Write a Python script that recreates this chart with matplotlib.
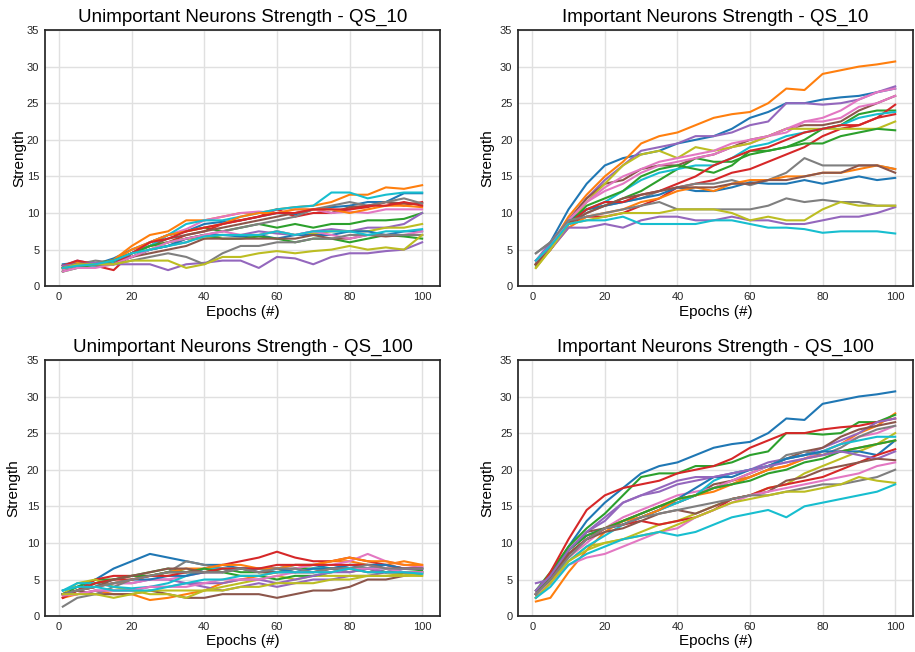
import matplotlib
matplotlib.use("Agg")
import matplotlib.pyplot as plt

plt.rcParams['font.family'] = ['Liberation Sans', 'DejaVu Sans']

epochs = [1, 5, 10, 15, 20, 25, 30, 35, 40, 45, 50, 55, 60, 65, 70, 75, 80, 85, 90, 95, 100]

# Unimportant neurons, QS_10 (20 neurons, tab10 order repeated)
unimp_qs10 = [
    [3.0, 3.2, 3.0, 3.8, 5.0, 6.0, 7.0, 7.5, 8.5, 8.8, 9.0, 9.5, 10.0, 9.8, 10.5, 10.8, 11.0, 11.5, 11.5, 12.7, 12.7],
    [2.8, 3.3, 3.0, 3.6, 5.5, 7.0, 7.5, 9.0, 9.0, 9.5, 10.0, 10.0, 10.5, 10.8, 11.0, 11.5, 12.5, 12.5, 13.5, 13.3, 13.8],
    [2.0, 3.0, 3.2, 3.5, 4.5, 6.0, 7.0, 7.5, 8.0, 7.5, 8.0, 8.5, 8.0, 8.5, 8.0, 8.5, 8.5, 9.0, 9.0, 9.2, 10.0],
    [2.5, 3.0, 2.8, 2.2, 4.5, 5.5, 6.0, 7.0, 7.5, 8.5, 9.0, 9.5, 10.5, 9.5, 10.0, 10.0, 10.5, 10.8, 11.5, 11.0, 11.5],
    [2.8, 3.5, 3.0, 3.2, 4.0, 5.0, 5.5, 6.5, 7.0, 7.0, 7.0, 7.5, 7.2, 7.0, 7.5, 7.8, 7.5, 8.0, 8.0, 8.5, 10.0],
    [2.5, 3.0, 3.0, 3.5, 4.5, 5.5, 6.5, 7.0, 7.5, 8.0, 8.5, 9.0, 9.5, 10.0, 10.5, 10.0, 10.8, 11.0, 11.5, 11.3, 11.3],
    [2.2, 2.5, 3.0, 3.5, 4.5, 6.0, 7.0, 7.8, 9.0, 9.5, 10.0, 10.2, 10.0, 10.5, 10.5, 10.0, 10.2, 10.0, 10.5, 10.5, 10.5],
    [2.5, 3.0, 3.5, 3.2, 4.0, 5.0, 5.5, 6.0, 7.0, 7.5, 8.0, 8.5, 9.0, 9.5, 10.5, 11.0, 11.5, 11.0, 11.5, 12.0, 11.3],
    [2.5, 3.0, 3.0, 3.5, 4.5, 5.0, 6.0, 6.5, 6.5, 7.0, 7.0, 7.0, 7.5, 7.0, 7.2, 7.5, 7.5, 7.5, 8.0, 8.0, 8.5],
    [2.5, 2.8, 2.8, 3.2, 4.5, 5.5, 7.0, 8.5, 9.0, 9.0, 9.5, 10.0, 10.5, 10.8, 11.0, 12.8, 12.8, 12.0, 12.5, 12.8, 12.8],
    [2.8, 3.0, 3.0, 3.5, 4.0, 5.0, 5.5, 6.5, 7.0, 7.0, 6.8, 7.0, 6.5, 7.0, 7.0, 7.0, 7.5, 7.5, 7.0, 7.5, 7.5],
    [2.5, 3.0, 3.0, 3.5, 5.0, 6.0, 7.0, 7.5, 8.0, 8.5, 9.5, 10.0, 10.0, 10.5, 10.5, 10.5, 10.0, 10.5, 11.0, 11.0, 10.8],
    [2.0, 2.5, 3.0, 3.5, 4.5, 5.5, 6.0, 6.5, 7.0, 6.5, 6.5, 6.8, 6.5, 6.0, 6.5, 6.5, 6.0, 6.5, 7.0, 6.8, 6.5],
    [2.8, 3.5, 3.0, 3.0, 4.5, 6.0, 6.5, 7.5, 8.0, 8.5, 9.0, 9.5, 10.0, 10.0, 10.5, 10.5, 10.5, 11.0, 11.0, 11.5, 11.0],
    [2.8, 3.0, 3.2, 3.0, 3.0, 3.0, 2.2, 3.0, 3.2, 3.5, 3.5, 2.5, 4.0, 3.8, 3.0, 4.0, 4.5, 4.5, 4.8, 5.0, 6.0],
    [2.5, 3.0, 3.0, 3.0, 4.0, 4.5, 5.0, 5.5, 6.5, 6.5, 6.5, 6.5, 6.5, 6.5, 7.0, 6.5, 6.5, 7.0, 6.8, 7.0, 7.0],
    [2.0, 2.5, 2.5, 3.0, 4.0, 5.0, 6.0, 6.5, 7.0, 7.5, 7.0, 7.0, 7.5, 7.0, 7.5, 7.0, 6.5, 7.0, 7.0, 7.0, 7.5],
    [2.5, 2.8, 3.0, 3.0, 3.5, 4.0, 4.5, 4.0, 3.0, 4.5, 5.5, 5.5, 6.0, 6.0, 6.5, 6.5, 7.0, 7.0, 7.0, 7.0, 7.0],
    [2.5, 3.0, 3.0, 3.0, 3.5, 3.5, 3.5, 2.5, 3.0, 4.0, 4.0, 4.5, 4.8, 4.5, 4.8, 5.0, 5.5, 5.0, 5.3, 5.0, 7.0],
    [2.5, 2.8, 3.0, 3.5, 4.5, 5.0, 5.5, 6.0, 6.8, 7.0, 7.0, 7.0, 7.5, 7.0, 7.5, 7.5, 7.5, 7.0, 7.5, 7.5, 7.8],
]

# Important neurons, QS_10
imp_qs10 = [
    [3.0, 6.0, 10.5, 14.0, 16.5, 17.5, 18.0, 18.5, 19.5, 20.0, 20.5, 21.5, 23.0, 23.8, 25.0, 25.0, 25.5, 25.8, 26.0, 26.5, 27.0],
    [3.0, 5.5, 9.5, 12.5, 15.0, 17.0, 19.5, 20.5, 21.0, 22.0, 23.0, 23.5, 23.8, 25.0, 27.0, 26.8, 29.0, 29.5, 30.0, 30.3, 30.7],
    [2.8, 5.0, 8.5, 10.5, 11.0, 12.0, 13.0, 14.5, 16.0, 17.5, 17.0, 17.0, 18.0, 18.5, 19.0, 20.0, 21.5, 22.0, 23.5, 24.0, 24.0],
    [3.0, 5.0, 8.5, 9.5, 9.5, 10.0, 11.0, 12.0, 13.5, 14.0, 14.5, 15.5, 16.0, 17.0, 18.0, 19.0, 20.5, 21.5, 22.0, 23.0, 24.8],
    [3.5, 6.0, 9.0, 12.0, 14.5, 16.5, 18.5, 19.0, 19.5, 20.5, 20.5, 21.0, 22.0, 22.5, 25.0, 25.0, 24.8, 25.0, 25.5, 26.5, 27.3],
    [3.0, 5.5, 9.0, 12.0, 14.0, 14.5, 16.0, 16.5, 16.5, 17.5, 18.0, 19.0, 20.0, 20.5, 21.5, 22.0, 22.0, 22.5, 24.0, 25.0, 26.0],
    [3.0, 5.5, 9.0, 11.5, 13.0, 14.0, 15.5, 16.5, 17.0, 17.5, 18.0, 19.0, 19.5, 20.5, 21.0, 22.5, 23.0, 24.0, 25.5, 26.5, 27.0],
    [4.5, 6.0, 8.5, 10.0, 11.0, 11.5, 12.0, 13.0, 13.5, 14.0, 14.0, 14.5, 13.8, 14.5, 15.5, 17.5, 16.5, 16.5, 16.5, 16.5, 16.0],
    [2.5, 5.0, 8.5, 11.5, 14.0, 16.5, 18.0, 18.5, 17.5, 19.0, 18.5, 19.0, 19.5, 20.5, 21.5, 21.5, 21.5, 21.5, 21.5, 21.5, 22.5],
    [3.5, 5.5, 8.5, 10.5, 11.5, 13.0, 14.5, 15.5, 16.0, 16.5, 16.5, 17.5, 19.0, 19.5, 20.5, 21.0, 21.5, 22.0, 23.0, 23.5, 23.8],
    [3.0, 5.5, 9.0, 10.5, 11.0, 11.5, 12.0, 12.5, 13.5, 13.0, 13.0, 13.5, 14.2, 14.0, 14.0, 14.5, 14.0, 14.5, 15.0, 14.5, 14.8],
    [3.0, 5.0, 8.0, 9.5, 10.0, 10.5, 11.5, 12.0, 13.0, 13.5, 13.0, 14.0, 14.5, 14.5, 15.0, 15.0, 15.5, 15.5, 16.0, 16.5, 16.0],
    [3.0, 5.5, 8.5, 11.0, 12.0, 13.0, 15.0, 16.0, 16.5, 16.0, 15.5, 16.5, 18.5, 18.5, 19.0, 19.5, 19.5, 20.5, 21.0, 21.5, 21.3],
    [3.0, 5.0, 8.5, 10.5, 11.5, 11.5, 12.5, 13.0, 14.0, 15.0, 16.5, 17.5, 18.5, 19.0, 20.0, 21.0, 21.5, 22.0, 22.0, 23.0, 23.5],
    [3.5, 5.0, 8.0, 8.0, 8.5, 8.0, 9.0, 9.5, 9.5, 9.0, 9.0, 9.5, 9.0, 9.0, 8.5, 8.5, 9.0, 9.5, 9.5, 10.0, 10.8],
    [3.0, 5.5, 8.5, 10.0, 11.0, 12.0, 12.5, 13.0, 13.5, 13.5, 13.5, 14.0, 14.0, 14.5, 14.5, 15.0, 15.5, 15.5, 16.5, 16.5, 15.5],
    [3.5, 5.5, 9.0, 11.5, 13.5, 15.0, 16.0, 17.0, 17.5, 18.0, 18.5, 19.5, 20.0, 20.5, 21.5, 22.5, 22.5, 23.0, 24.5, 25.0, 26.0],
    [4.5, 6.0, 9.0, 9.5, 10.0, 10.5, 11.0, 11.5, 10.5, 10.5, 10.5, 10.5, 10.5, 11.0, 12.0, 11.5, 11.8, 11.5, 11.5, 11.0, 11.0],
    [2.5, 5.0, 8.5, 9.0, 9.5, 10.0, 10.0, 10.0, 10.5, 10.5, 10.5, 10.0, 9.0, 9.5, 9.0, 9.0, 10.5, 11.5, 11.0, 11.0, 11.0],
    [3.5, 5.5, 8.5, 9.0, 9.0, 9.5, 8.5, 8.5, 8.5, 8.5, 9.0, 9.0, 8.5, 8.0, 8.0, 7.8, 7.3, 7.5, 7.5, 7.5, 7.2],
]

# Unimportant neurons, QS_100
unimp_qs100 = [
    [3.5, 4.0, 5.0, 6.5, 7.5, 8.5, 8.0, 7.5, 7.0, 7.0, 6.5, 6.0, 6.5, 7.0, 7.0, 6.5, 7.0, 6.5, 7.0, 6.5, 6.5],
    [2.5, 3.0, 3.5, 3.0, 3.0, 2.2, 2.5, 3.0, 3.5, 4.5, 5.0, 5.5, 6.0, 6.5, 7.0, 7.5, 7.5, 7.0, 7.0, 7.5, 7.0],
    [3.0, 4.0, 5.0, 5.0, 5.5, 6.0, 6.5, 6.0, 6.0, 6.5, 6.0, 6.0, 6.0, 6.5, 6.5, 6.5, 6.5, 6.5, 6.0, 6.5, 6.5],
    [2.5, 3.5, 5.0, 5.5, 5.5, 5.5, 6.0, 6.0, 6.5, 7.0, 7.5, 8.0, 8.8, 8.0, 7.5, 7.5, 8.0, 7.5, 7.0, 6.5, 6.8],
    [3.0, 3.5, 4.0, 4.5, 4.5, 5.0, 5.0, 4.5, 4.0, 3.5, 4.0, 4.5, 4.0, 4.5, 5.0, 5.0, 5.5, 5.5, 6.0, 6.0, 6.0],
    [3.0, 3.5, 3.0, 3.0, 3.0, 3.5, 3.0, 2.5, 2.5, 3.0, 3.0, 3.0, 2.5, 3.0, 3.5, 3.5, 4.0, 5.0, 5.0, 5.5, 5.8],
    [3.0, 3.5, 4.0, 4.5, 4.5, 5.0, 5.0, 5.5, 6.0, 6.0, 6.5, 6.5, 6.5, 6.5, 7.0, 7.0, 7.5, 8.5, 7.5, 7.0, 6.8],
    [1.3, 2.5, 3.0, 4.0, 5.0, 5.5, 6.0, 7.5, 7.0, 6.5, 6.5, 6.5, 6.5, 6.0, 6.0, 6.5, 6.0, 6.5, 6.0, 6.0, 6.0],
    [3.0, 4.5, 5.0, 4.0, 3.5, 3.0, 3.0, 2.5, 3.5, 4.0, 4.5, 5.0, 5.5, 5.0, 5.5, 5.5, 5.5, 5.5, 5.5, 5.8, 5.5],
    [3.5, 4.5, 4.5, 4.0, 3.8, 4.0, 4.5, 5.5, 6.5, 6.5, 6.5, 6.5, 6.0, 6.0, 6.5, 6.5, 6.5, 6.5, 6.5, 6.0, 5.8],
    [3.0, 3.5, 4.0, 4.5, 5.0, 5.0, 5.5, 5.5, 6.0, 6.0, 6.5, 6.5, 6.5, 6.0, 6.5, 6.5, 7.0, 7.0, 7.0, 6.5, 6.5],
    [2.8, 3.5, 4.0, 4.5, 5.0, 5.5, 6.0, 6.5, 6.5, 7.0, 7.0, 6.5, 6.5, 7.0, 7.0, 7.5, 8.0, 7.5, 7.5, 7.0, 7.0],
    [3.0, 3.5, 4.5, 5.0, 5.5, 5.5, 6.0, 6.0, 6.5, 6.0, 5.5, 5.5, 5.0, 5.5, 5.5, 6.0, 6.5, 6.5, 6.0, 6.0, 6.2],
    [2.5, 3.5, 4.5, 5.0, 5.0, 5.5, 5.5, 6.0, 6.0, 6.5, 6.5, 6.5, 7.0, 7.0, 7.0, 7.0, 7.0, 7.0, 6.5, 6.5, 6.5],
    [3.0, 3.0, 3.5, 3.5, 3.5, 4.0, 4.0, 4.5, 4.5, 4.5, 5.0, 5.0, 4.5, 5.0, 5.5, 6.0, 6.0, 6.5, 6.0, 6.5, 6.5],
    [3.0, 3.5, 4.0, 5.0, 5.5, 6.0, 6.5, 6.5, 6.0, 6.0, 6.5, 6.0, 6.0, 6.0, 6.0, 6.5, 6.5, 6.0, 6.0, 6.0, 6.0],
    [2.8, 3.0, 3.5, 3.5, 3.5, 4.0, 4.0, 4.0, 4.5, 5.0, 5.0, 5.0, 5.5, 6.0, 6.0, 6.0, 6.5, 6.5, 6.5, 6.0, 6.0],
    [3.0, 3.5, 4.0, 4.5, 5.0, 5.5, 6.0, 6.0, 6.0, 6.0, 6.5, 6.0, 6.5, 6.5, 6.0, 6.5, 6.5, 7.0, 6.5, 6.5, 6.5],
    [3.0, 3.0, 3.0, 2.5, 3.0, 3.5, 3.5, 3.5, 3.5, 3.5, 4.0, 4.0, 4.5, 4.5, 4.5, 5.0, 5.0, 5.5, 5.5, 5.5, 5.5],
    [3.5, 4.0, 4.0, 3.5, 3.5, 3.5, 4.0, 4.5, 5.0, 5.0, 5.5, 5.5, 6.0, 6.0, 6.0, 6.0, 6.5, 6.0, 6.0, 6.0, 5.8],
]

# Important neurons, QS_100
imp_qs100 = [
    [3.0, 5.5, 9.5, 13.0, 15.5, 17.5, 19.5, 20.5, 21.0, 22.0, 23.0, 23.5, 23.8, 25.0, 27.0, 26.8, 29.0, 29.5, 30.0, 30.3, 30.7],
    [2.0, 2.5, 6.0, 9.0, 11.5, 13.0, 14.0, 15.0, 16.0, 16.5, 17.5, 18.5, 19.0, 20.0, 20.5, 21.5, 22.5, 23.5, 25.0, 26.0, 27.7],
    [3.5, 6.0, 9.5, 12.0, 14.0, 16.5, 19.0, 19.5, 19.5, 20.5, 20.5, 21.0, 22.0, 22.5, 25.0, 25.0, 24.8, 25.0, 26.5, 26.5, 27.5],
    [3.0, 6.0, 10.5, 14.5, 16.5, 17.5, 18.0, 18.5, 19.5, 20.0, 20.5, 21.5, 23.0, 24.0, 25.0, 25.0, 25.5, 25.8, 26.0, 26.5, 27.0],
    [4.5, 5.0, 9.0, 11.5, 13.0, 15.5, 16.5, 17.0, 18.0, 18.5, 19.0, 19.5, 20.0, 21.0, 21.5, 22.0, 23.0, 24.0, 25.0, 26.5, 27.0],
    [3.0, 5.0, 9.0, 11.5, 12.0, 13.0, 14.0, 15.0, 15.5, 16.5, 18.0, 18.5, 19.5, 20.5, 21.5, 22.5, 23.0, 24.5, 25.5, 26.0, 26.5],
    [3.0, 5.0, 8.0, 10.0, 12.0, 13.5, 14.5, 15.5, 16.5, 17.0, 17.5, 18.5, 19.5, 20.5, 21.0, 21.5, 22.5, 23.5, 24.5, 25.0, 26.0],
    [3.5, 5.5, 8.5, 10.5, 12.0, 12.5, 13.5, 14.5, 15.5, 16.5, 17.5, 18.0, 19.0, 20.0, 22.0, 22.5, 22.0, 23.0, 24.5, 25.5, 26.0],
    [3.0, 4.5, 7.5, 9.5, 10.0, 10.5, 11.5, 12.5, 13.0, 14.0, 15.0, 16.0, 16.5, 17.5, 18.0, 19.5, 20.5, 21.5, 22.5, 23.5, 25.0],
    [3.0, 5.0, 7.5, 9.5, 11.0, 12.5, 13.5, 14.5, 15.5, 16.5, 18.5, 19.5, 20.0, 20.5, 21.5, 22.0, 22.5, 23.5, 24.0, 24.5, 24.5],
    [2.5, 5.0, 9.0, 11.0, 12.0, 12.5, 13.5, 14.5, 16.0, 17.5, 19.0, 19.0, 20.0, 20.5, 21.5, 22.0, 22.5, 22.5, 22.5, 22.0, 24.0],
    [2.5, 4.5, 8.5, 10.5, 12.0, 13.0, 13.5, 14.5, 16.0, 16.5, 17.0, 18.0, 19.0, 20.0, 20.5, 21.5, 22.0, 22.5, 23.0, 23.5, 24.0],
    [3.0, 5.5, 9.0, 11.0, 12.0, 13.0, 14.0, 15.0, 16.0, 16.5, 17.5, 18.0, 18.5, 19.5, 20.0, 21.0, 21.5, 22.5, 23.0, 23.5, 24.0],
    [3.0, 5.0, 8.5, 10.5, 12.0, 12.5, 13.0, 12.5, 13.0, 13.5, 14.5, 16.0, 16.5, 17.5, 18.0, 18.5, 19.0, 20.0, 21.0, 22.0, 22.8],
    [3.5, 5.5, 9.0, 11.5, 13.5, 15.5, 16.5, 17.5, 18.5, 19.0, 19.0, 19.5, 20.0, 20.5, 21.0, 21.5, 22.0, 22.5, 22.0, 21.5, 22.5],
    [3.0, 5.0, 8.5, 10.5, 11.5, 12.0, 13.0, 14.0, 14.5, 14.0, 15.0, 16.0, 16.5, 17.0, 18.5, 19.0, 20.0, 20.5, 21.0, 21.5, 21.3],
    [3.0, 4.5, 7.0, 8.0, 8.5, 9.5, 10.5, 11.5, 12.0, 13.5, 14.5, 15.5, 16.5, 17.0, 17.5, 18.0, 18.5, 19.0, 19.5, 20.5, 21.0],
    [3.0, 5.0, 8.0, 10.5, 12.0, 12.5, 13.5, 14.0, 14.5, 15.0, 15.5, 16.0, 16.5, 16.5, 17.0, 17.5, 18.0, 18.0, 18.5, 19.0, 20.0],
    [2.5, 4.5, 7.5, 9.0, 10.0, 10.5, 11.0, 11.5, 12.5, 13.5, 14.5, 15.5, 16.0, 16.5, 17.0, 17.0, 17.5, 18.0, 19.0, 18.5, 18.2],
    [2.5, 4.0, 7.0, 8.5, 9.5, 10.5, 11.0, 11.5, 11.0, 11.5, 12.5, 13.5, 14.0, 14.5, 13.5, 15.0, 15.5, 16.0, 16.5, 17.0, 18.0],
]

titles = [
    "Unimportant Neurons Strength - QS_10",
    "Important Neurons Strength - QS_10",
    "Unimportant Neurons Strength - QS_100",
    "Important Neurons Strength - QS_100",
]
panels = [unimp_qs10, imp_qs10, unimp_qs100, imp_qs100]

# axes rectangles in figure fractions (left, bottom, width, height)
rects = [
    [0.049, 0.561, 0.432, 0.393],
    [0.566, 0.561, 0.432, 0.393],
    [0.049, 0.055, 0.432, 0.393],
    [0.566, 0.055, 0.432, 0.393],
]
ylabel_pads = [0.5, 4, 5, 4]

fig = plt.figure(figsize=(9.15, 6.52), dpi=100)
colors = plt.get_cmap('tab10').colors

for rect, title, series, pad in zip(rects, titles, panels, ylabel_pads):
    ax = fig.add_axes(rect)
    for i, vals in enumerate(series):
        ax.plot(epochs, vals, color=colors[i % 10], lw=1.5)
    ax.set_ylim(0, 35)
    ax.set_yticks(range(0, 36, 5))
    ax.set_xticks(range(0, 101, 20))
    ax.grid(True, color='#e0e0e0', lw=1.0)
    ax.set_axisbelow(True)
    for s in ax.spines.values():
        s.set_color('#262626')
        s.set_linewidth(1.25)
    ax.tick_params(length=0, labelsize=8, colors='#262626', pad=4)
    ax.set_title(title, fontsize=13.5, color='black')
    ax.set_xlabel("Epochs (#)", fontsize=11, labelpad=2)
    ax.set_ylabel("Strength", fontsize=11, labelpad=pad)

fig.savefig("out.png", dpi=100, facecolor='white')
